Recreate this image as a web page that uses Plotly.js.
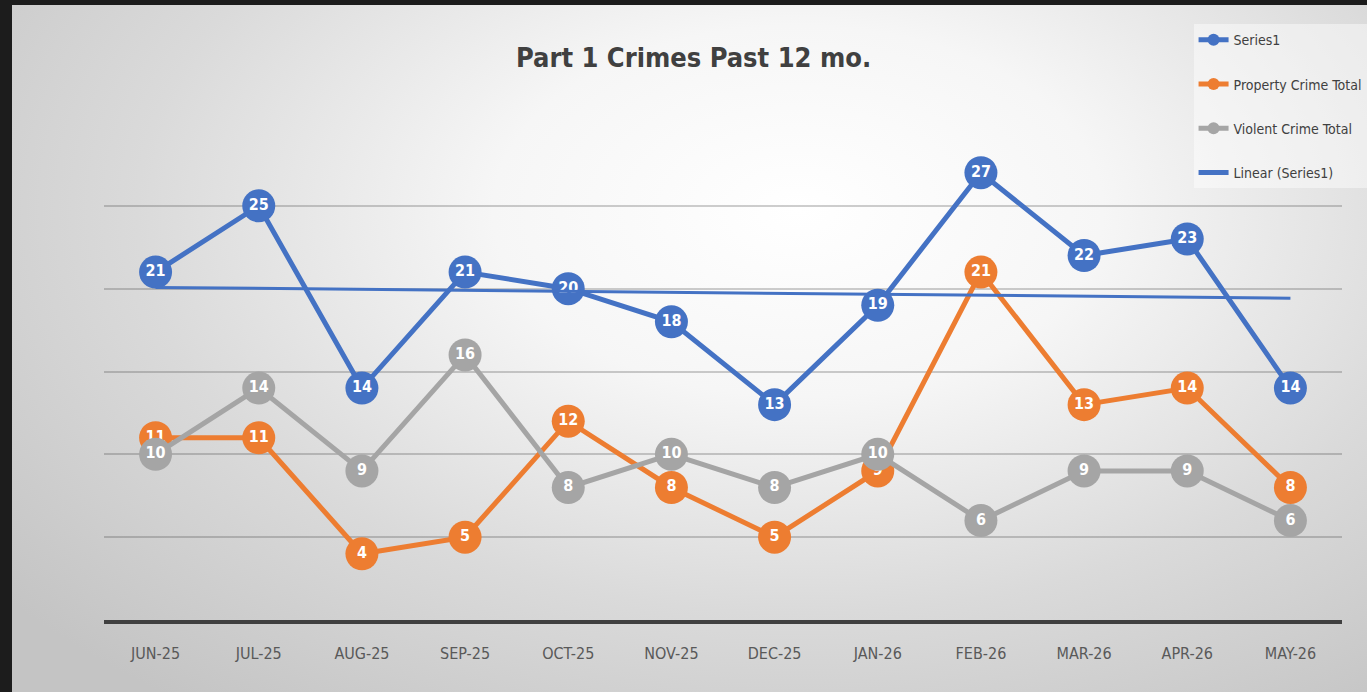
<!DOCTYPE html>
<html>
<head>
<meta charset="utf-8">
<script src="https://cdn.plot.ly/plotly-3.0.1.min.js"></script>
<style>
  html, body { margin: 0; padding: 0; background: #1c1c1c; width: 1367px; height: 692px; overflow: hidden; }
  #chart {
    position: absolute; left: 12px; top: 5px; width: 1355px; height: 687px;
    background: radial-gradient(ellipse 75% 90% at 58% 30%, #ffffff 0%, #f6f6f6 30%, #dadada 65%, #c4c4c4 100%);
  }
  #chart text { font-stretch: condensed !important; }
</style>
</head>
<body>
<div id="chart"></div>
<script>
const months = ["JUN-25","JUL-25","AUG-25","SEP-25","OCT-25","NOV-25","DEC-25","JAN-26","FEB-26","MAR-26","APR-26","MAY-26"];
const series1 = [21,25,14,21,20,18,13,19,27,22,23,14];
const propertyCrime = [11,11,4,5,12,8,5,9,21,13,14,8];
const violentCrime = [10,14,9,16,8,10,8,10,6,9,9,6];

// linear trend of Series1 (least squares over index 1..n)
function linearTrend(vals) {
  const n = vals.length;
  const xs = vals.map((_, i) => i + 1);
  const mx = xs.reduce((a, b) => a + b, 0) / n;
  const my = vals.reduce((a, b) => a + b, 0) / n;
  let sxy = 0, sxx = 0;
  for (let i = 0; i < n; i++) { sxy += (xs[i] - mx) * (vals[i] - my); sxx += (xs[i] - mx) ** 2; }
  const b = sxy / sxx, a = my - b * mx;
  return xs.map(x => a + b * x);
}
const trend = linearTrend(series1);

const FONT = '"DejaVu Sans Condensed", "DejaVu Sans", sans-serif';

function series(name, vals, color) {
  return {
    type: 'scatter', mode: 'lines+markers+text', name: name, legendgroup: name,
    x: months, y: vals, text: vals.map(String), textposition: 'middle center',
    textfont: { family: FONT, size: 16, color: '#ffffff', weight: 'bold' },
    line: { color: color, width: 5 },
    marker: { color: color, size: 33, symbol: 'circle' },
    cliponaxis: false, hoverinfo: 'x+y'
  };
}

const data = [
  series('Series1', series1, '#4472C4'),
  series('Property Crime Total', propertyCrime, '#ED7D31'),
  series('Violent Crime Total', violentCrime, '#A5A5A5'),
  { type: 'scatter', mode: 'lines', name: 'Linear (Series1)', legendgroup: 'trend',
    x: months, y: trend, line: { color: '#4472C4', width: 3 }, hoverinfo: 'skip' }
];

const layout = {
  width: 1355, height: 687,
  paper_bgcolor: 'rgba(0,0,0,0)', plot_bgcolor: 'rgba(0,0,0,0)',
  margin: { l: 92, r: 25, t: 118, b: 72, autoexpand: false },
  font: { family: FONT, color: '#595959' },
  title: { text: 'Part 1 Crimes Past 12 mo.', x: 0.503, xanchor: 'center', y: 0.923, yanchor: 'middle',
           font: { family: FONT, size: 27, color: '#404040', weight: 'bold' } },
  xaxis: { type: 'category', range: [-0.5, 11.5], showgrid: false, zeroline: false,
           showline: true, linecolor: '#404040', linewidth: 4,
           ticks: '', tickfont: { family: FONT, size: 16, color: '#595959' }, ticklabelstandoff: 16 },
  yaxis: { range: [0, 30], dtick: 5, showgrid: true, gridcolor: 'rgba(60,60,60,0.25)', gridwidth: 2,
           zeroline: false, showticklabels: false, showline: false, fixedrange: true },
  showlegend: true,
  legend: { xref: 'container', yref: 'container', x: 0.872, y: 0.972, xanchor: 'left', yanchor: 'top',
            bgcolor: 'rgba(255,255,255,0.45)', font: { family: FONT, size: 14, color: '#404040' },
            traceorder: 'grouped', tracegroupgap: 23, itemsizing: 'constant', itemwidth: 30 }
};

Plotly.newPlot('chart', data, layout, { displayModeBar: false, staticPlot: true });
</script>
</body>
</html>
